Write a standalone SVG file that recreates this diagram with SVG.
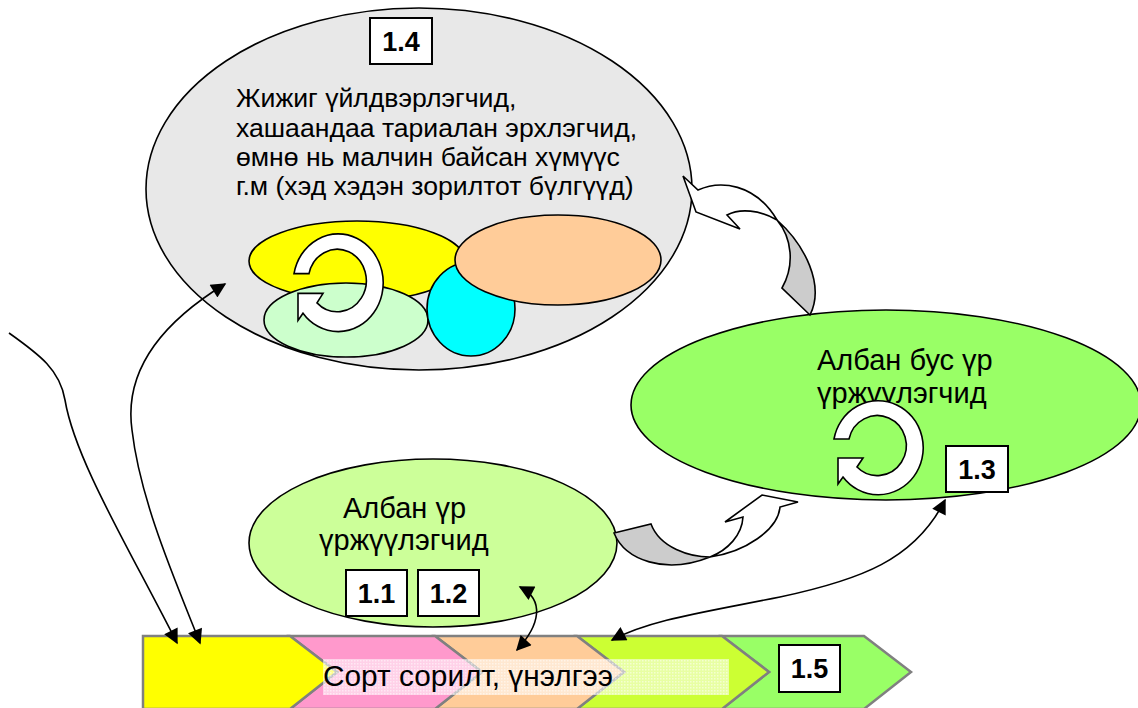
<svg xmlns="http://www.w3.org/2000/svg" width="1138" height="708" viewBox="0 0 1138 708">
<style>
.t{font-family:"Liberation Sans",Arial,sans-serif;font-size:26.6px;fill:#000}
.tl{font-family:"Liberation Sans",Arial,sans-serif;font-size:29px;fill:#000}
.b{font-family:"Liberation Sans",Arial,sans-serif;font-size:27px;font-weight:bold;fill:#000;text-anchor:middle}
.box{fill:#fff;stroke:#000;stroke-width:2}
.ol{stroke:#000;stroke-width:1.6}
.chev{stroke:#808080;stroke-width:2.5}
.con{fill:none;stroke:#000;stroke-width:1.6}
</style>
<defs>
<marker id="ah" viewBox="0 0 10 10" refX="9" refY="5" markerWidth="17" markerHeight="15" markerUnits="userSpaceOnUse" orient="auto-start-reverse">
<path d="M0,0 L10,5 L0,10 Z" fill="#000"/>
</marker>
<pattern id="dots" width="3" height="3" patternUnits="userSpaceOnUse">
<rect width="3" height="3" fill="#fff" fill-opacity="0.55"/>
<rect width="1.5" height="1.5" fill="#fff" fill-opacity="0.5"/>
</pattern>
<path id="ring" d="M-44,-8 L-29,-8 A29,30 0 1 1 -21,20 L-15,11 L-40,11 L-40,37 L-35,30 A45,47 0 1 0 -44,-8 Z" fill="#fff" stroke="#000" stroke-width="1.6"/>
</defs>

<g id="chevrons">
<path class="chev" d="M722,636 L864,636 L911,672 L864,709 L722,709 L769,672 Z" fill="#99FF66"/>
<path class="chev" d="M577,636 L722,636 L769,672 L722,709 L577,709 L624,672 Z" fill="#CCFF33"/>
<path class="chev" d="M435,636 L577,636 L624,672 L577,709 L435,709 L482,672 Z" fill="#FFCC99"/>
<path class="chev" d="M290,636 L435,636 L482,672 L435,709 L290,709 L337,672 Z" fill="#FF99CC"/>
<path class="chev" d="M143,636 L290,636 L337,672 L290,709 L143,709 Z" fill="#FFFF00"/>
<rect x="323" y="659" width="406" height="36" fill="url(#dots)"/>
<text class="tl" x="323" y="686" textLength="290" lengthAdjust="spacingAndGlyphs">Сорт сорилт, үнэлгээ</text>
</g>

<g id="node-1-4">
<ellipse cx="419" cy="189" rx="273" ry="181" fill="#E8E8E8" class="ol"/>
<text class="t"><tspan x="236" y="107">Жижиг үйлдвэрлэгчид,</tspan><tspan x="236" y="137">хашаандаа тариалан эрхлэгчид,</tspan><tspan x="236" y="166">өмнө нь малчин байсан хүмүүс</tspan><tspan x="236" y="195">г.м (хэд хэдэн зорилтот бүлгүүд)</tspan></text>
<ellipse cx="357" cy="261" rx="108" ry="40" fill="#FFFF00" class="ol"/>
<ellipse cx="346" cy="320" rx="82" ry="37" fill="#CCFFCC" class="ol"/>
<ellipse cx="471" cy="309" rx="44" ry="47" fill="#00FFFF" class="ol"/>
<ellipse cx="558" cy="260" rx="103" ry="45" fill="#FFCC99" class="ol"/>
<use href="#ring" transform="translate(338,282) scale(1,1.04)"/>
<rect class="box" x="370" y="18" width="62" height="46"/>
<text class="b" x="401" y="51">1.4</text>
</g>

<g id="node-1-3">
<ellipse cx="886" cy="405" rx="255" ry="95" fill="#99FF66" class="ol"/>
<text class="tl"><tspan x="817" y="370">Албан бус үр</tspan><tspan x="817" y="403">үржүүлэгчид</tspan></text>
<use href="#ring" transform="translate(878,447)"/>
<rect class="box" x="946" y="446" width="62" height="46"/>
<text class="b" x="977" y="479">1.3</text>
</g>

<g id="node-1-1">
<ellipse cx="433" cy="543" rx="184" ry="84" fill="#CCFF99" class="ol"/>
<text class="tl"><tspan x="343" y="518">Албан үр</tspan><tspan x="319" y="550">үржүүлэгчид</tspan></text>
<rect class="box" x="346" y="570" width="61" height="46"/>
<text class="b" x="376.5" y="603">1.1</text>
<rect class="box" x="418" y="570" width="61" height="46"/>
<text class="b" x="448.5" y="603">1.2</text>
</g>

<g id="node-1-5">
<rect class="box" x="779" y="645" width="61" height="47"/>
<text class="b" x="809.5" y="678">1.5</text>
</g>

<g id="connectors">
<path d="M698,190 C720,180 755,183 777,220 C760,210 740,208 727,215 L740,229 L696,212 L683,176 Z" fill="#fff" class="ol"/>
<path d="M777,220 C805,245 825,285 810,315 L782,288 C795,265 792,238 777,220 Z" fill="#CCCCCC" class="ol"/>
<path d="M710,557 C728,550 742,535 743,517 L725,522 L762,495 L798,502 L780,507 C778,530 745,552 710,557 Z" fill="#fff" class="ol"/>
<path d="M710,557 C690,557 660,548 651,524 L614,533 C625,560 665,575 710,557 Z" fill="#CCCCCC" class="ol"/>
<path class="con" d="M9,333 C40,355 60,370 65,400 C75,460 130,550 177,643" marker-end="url(#ah)"/>
<path class="con" d="M225,284 C150,330 125,380 132,430 C140,500 175,580 200,643" marker-start="url(#ah)" marker-end="url(#ah)"/>
<path class="con" d="M520,587 C545,600 540,625 517,650" marker-start="url(#ah)" marker-end="url(#ah)"/>
<path class="con" d="M945,500 C915,560 860,580 780,597 C700,613 650,620 612,640" marker-start="url(#ah)" marker-end="url(#ah)"/>
</g>
</svg>
